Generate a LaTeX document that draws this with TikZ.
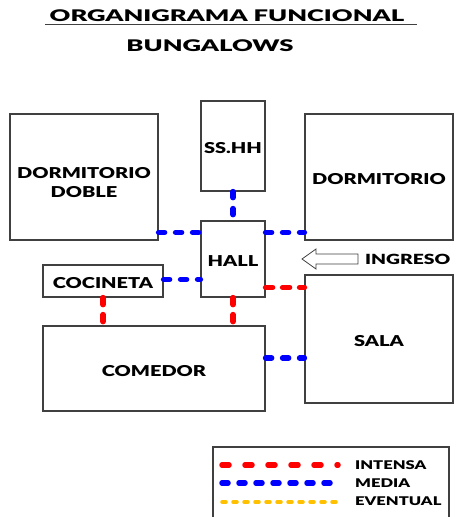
\documentclass[tikz,border=0pt]{standalone}
\usepackage{fontspec}
\newfontfamily\labfont{Lato Black}[FakeStretch=1.33]
\newfontfamily\legfont{Lato Black}[FakeStretch=1.38]
\newfontfamily\titlefont{Lato Black}[FakeStretch=1.6]
\definecolor{intensacol}{RGB}{255,0,0}
\definecolor{mediacol}{RGB}{0,0,255}
\definecolor{eventualcol}{RGB}{255,192,0}
\definecolor{boxgray}{RGB}{64,64,64}

\begin{document}
\begin{tikzpicture}[x=1pt, y=-1pt,
  room/.style={draw=boxgray, line width=1.2pt, fill=white, inner sep=0pt,
    align=center, font=\labfont\fontsize{15}{19}\selectfont},
  roomone/.style={room, text height=15.5pt, text depth=0pt},
  intensa/.style={draw=intensacol, line width=5.5pt, line cap=round, dash pattern=on 7pt off 10pt},
  media/.style={draw=mediacol, line width=5.5pt, line cap=round, dash pattern=on 6pt off 11pt},
  eventual/.style={draw=eventualcol, line width=3.5pt, line cap=round, dash pattern=on 4pt off 7pt},
  legtext/.style={anchor=west, inner sep=0pt, font=\legfont\fontsize{12}{14}\selectfont}]
  \useasboundingbox (0,0) rectangle (459,517);

  % ---- title ----
  \node[inner sep=0pt, font=\titlefont\fontsize{16}{18}\selectfont] (title) at (227,16) {ORGANIGRAMA FUNCIONAL};
  \draw[boxgray, line width=1.5pt] (45,24.5) -- (417,24.5);
  \node[inner sep=0pt, font=\titlefont\fontsize{16}{18}\selectfont] (subtitle) at (210,46) {BUNGALOWS};

  % ---- rooms ----
  \node[room, minimum width=148pt, minimum height=126pt] (dormdoble) at (84,177) {\rule{0pt}{23pt}DORMITORIO\\DOBLE};
  \node[roomone, minimum width=64pt, minimum height=90pt] (sshh) at (233,146) {SS.HH};
  \node[roomone, minimum width=148pt, minimum height=126pt] (dormitorio) at (379,177) {DORMITORIO};
  \node[roomone, minimum width=64pt, minimum height=76pt] (hall) at (233,259) {HALL};
  \node[roomone, minimum width=120pt, minimum height=32pt] (cocineta) at (103,281) {COCINETA};
  \node[roomone, minimum width=222pt, minimum height=85pt] (comedor) at (154,368.5) {COMEDOR};
  \node[roomone, minimum width=148pt, minimum height=128pt] (sala) at (379,339) {SALA};

  % ---- ingreso ----
  \draw[boxgray, line width=0.8pt, fill=white] (302,259) -- (316,249) -- (316,254) -- (358,254)
    -- (358,264) -- (316,264) -- (316,269) -- cycle;
  \node[legtext, font=\legfont\fontsize{14}{16}\selectfont] (ingreso) at (365,259) {INGRESO};

  % ---- connections ----
  \coordinate (hA) at ([yshift=-12pt]hall.north west);
  \coordinate (hB) at ([yshift=-59pt]hall.north west);
  \coordinate (hC) at ([yshift=-67pt]hall.north east);
  \draw[media] (sshh.south) -- (hall.north);
  \draw[media] (dormdoble.east |- hA) -- (hA);
  \draw[media] (hall.east |- hA) -- (dormitorio.west |- hA);
  \draw[media] (cocineta.east |- hB) -- (hB);
  \draw[intensa] (hC) -- (sala.west |- hC);
  \draw[intensa] (hall.south) -- (comedor.north -| hall.south);
  \draw[intensa] (cocineta.south) -- (comedor.north -| cocineta.south);
  \draw[media] (comedor.east |- 0,358) -- (sala.west |- 0,358);

  % ---- legend ----
  \draw[boxgray, line width=1.2pt] (213,530) -- (213,447) -- (449,447) -- (449,530);
  \coordinate (lgA) at (222,465);
  \coordinate (lgB) at (222,483);
  \coordinate (lgC) at (222,502);
  \draw[intensa, dash pattern=on 7pt off 16pt] (lgA) -- ++(116,0);
  \draw[media] (lgB) -- ++(116,0);
  \draw[eventual] (lgC) -- ++(116,0);
  \node[legtext] (tintensa) at (355,465) {INTENSA};
  \node[legtext] (tmedia) at (355,483) {MEDIA};
  \node[legtext] (teventual) at (355,501) {EVENTUAL};
\end{tikzpicture}
\end{document}
